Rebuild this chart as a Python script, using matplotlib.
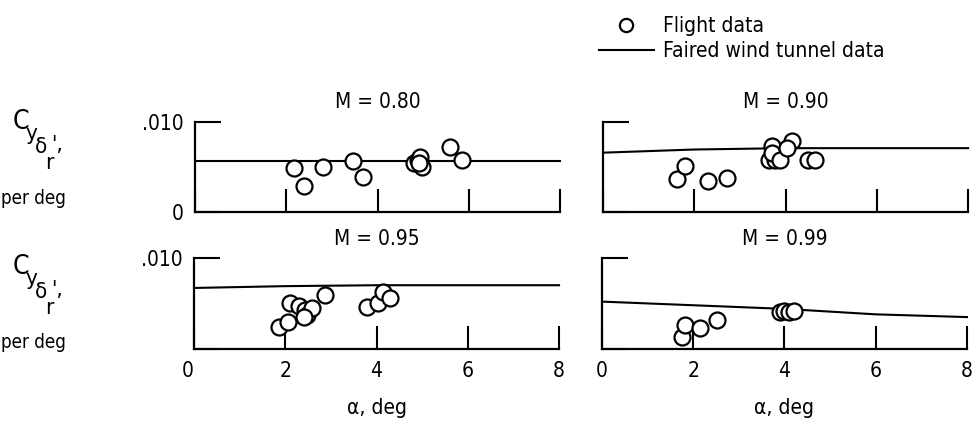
import matplotlib
matplotlib.use("Agg")
import matplotlib.pyplot as plt
from matplotlib.lines import Line2D

plt.rcParams["font.family"] = ["DejaVu Sans"]
plt.rcParams["font.stretch"] = "condensed"
plt.rcParams["font.size"] = 15

# faired wind tunnel data at alpha = 0, 2, 4, 6, 8 deg
alpha_wt = [0, 2, 4, 6, 8]
wt_080 = [0.0057, 0.0057, 0.0057, 0.0057, 0.0057]
wt_090 = [0.0066, 0.00695, 0.0071, 0.0071, 0.0071]
wt_095 = [0.0067, 0.0069, 0.0070, 0.0070, 0.0070]
wt_099 = [0.0052, 0.0048, 0.0044, 0.0038, 0.0035]

# flight data
a_080 = [2.17, 2.38, 2.80, 3.47, 3.68, 4.80, 4.88, 4.93, 4.97, 4.90, 5.59, 5.86]
c_080 = [0.0049, 0.0029, 0.0050, 0.0057, 0.0039, 0.0055, 0.0058, 0.0061, 0.0050, 0.0055, 0.0072, 0.0058]
a_090 = [1.63, 1.80, 2.31, 2.71, 3.70, 3.63, 3.77, 3.70, 3.88, 4.14, 4.03, 4.50, 4.65]
c_090 = [0.0037, 0.0051, 0.0034, 0.0038, 0.0073, 0.0058, 0.0058, 0.0066, 0.0058, 0.0079, 0.0071, 0.0058, 0.0058]
a_095 = [1.87, 2.07, 2.10, 2.29, 2.43, 2.47, 2.58, 2.40, 2.87, 3.79, 4.04, 4.15, 4.30]
c_095 = [0.0024, 0.0030, 0.0050, 0.0047, 0.0043, 0.0037, 0.0045, 0.0035, 0.0059, 0.0046, 0.0050, 0.0063, 0.0056]
a_099 = [1.75, 1.82, 2.15, 2.52, 3.90, 4.00, 4.10, 4.20]
c_099 = [0.0013, 0.0026, 0.0023, 0.0032, 0.0041, 0.0042, 0.0041, 0.0042]

mach = ["M = 0.80", "M = 0.90", "M = 0.95", "M = 0.99"]
xticks = [0, 2, 4, 6, 8]

fig = plt.figure(figsize=(9.75, 4.25), dpi=100)
boxes = [[0.200, 0.501, 0.3744, 0.2118],
         [0.6185, 0.501, 0.3744, 0.2118],
         [0.199, 0.179, 0.3744, 0.2141],
         [0.6174, 0.179, 0.3744, 0.2141]]
flight = [(a_080, c_080), (a_090, c_090), (a_095, c_095), (a_099, c_099)]
tunnel = [wt_080, wt_090, wt_095, wt_099]

for i in range(4):
    ax = fig.add_axes(boxes[i])
    ax.plot(alpha_wt, tunnel[i], color="k", lw=1.5, clip_on=False)
    ax.plot(flight[i][0], flight[i][1], "o", mfc="white", mec="k", mew=1.6,
            ms=11.5, clip_on=False)
    ax.set_xlim(0, 8)
    ax.set_ylim(0, 0.010)
    ax.spines["top"].set_visible(False)
    ax.spines["right"].set_visible(False)
    ax.spines["left"].set_linewidth(1.6)
    ax.spines["bottom"].set_linewidth(1.6)
    ax.set_xticks(xticks)
    ax.set_yticks([0, 0.010])
    ax.tick_params(axis="x", direction="in", length=16.5, width=1.5, pad=9)
    ax.tick_params(axis="y", direction="in", length=18.5, width=1.5, pad=8.5)
    ax.set_title(mach[i], pad=10 if i < 2 else 9, fontsize=15)
    if i < 2:
        ax.set_xticklabels([])
    else:
        ax.set_xlabel("α, deg", labelpad=12)
    if i == 0:
        ax.set_yticklabels(["0", ".010"])
    elif i == 2:
        ax.set_yticklabels(["", ".010"])
        ax.xaxis.get_majorticklabels()[0].set_horizontalalignment("right")
    else:
        ax.set_yticklabels([])

# y-axis labels (pixel positions)
for dy in [0, 145]:
    fig.text(21, 425 - 122 - dy, "C", fontsize=19, ha="center", va="center",
             transform=None)
    fig.text(31, 425 - 134 - dy, "y", fontsize=16, ha="center", va="center",
             transform=None)
    fig.text(41.5, 425 - 147 - dy, "δ", fontsize=16, ha="center", va="center",
             transform=None)
    fig.text(49, 425 - 163 - dy, "r", fontsize=16, ha="center", va="center",
             transform=None)
    fig.text(57, 425 - 145 - dy, "',", fontsize=16, ha="center", va="center",
             transform=None)
    fig.text(33, 425 - 198 - dy, "per deg", fontsize=13.5, ha="center", va="center",
             transform=None)

handles = [Line2D([], [], ls="none", marker="o", mfc="white", mec="k", mew=1.6, ms=9.5),
           Line2D([], [], color="k", lw=1.5)]
fig.legend(handles, ["Flight data", "Faired wind tunnel data"], loc="upper left",
           bbox_to_anchor=(591 / 975, 0.982), frameon=False, handlelength=2.6,
           handletextpad=0.45, labelspacing=0.25, fontsize=15, borderaxespad=0)

fig.savefig("out.png", dpi=100)
